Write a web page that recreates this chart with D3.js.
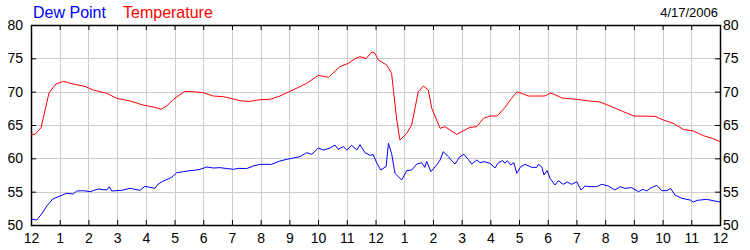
<!DOCTYPE html>
<html>
<head>
<meta charset="utf-8">
<script src="https://cdn.jsdelivr.net/npm/d3@7"></script>
<style>
body { margin:0; background:#fff; }
svg { font-family: "Liberation Sans", Arial, sans-serif; }
</style>
</head>
<body>
<div id="chart"></div>
<script>
// hour labels along the bottom
var hourLabels = ["12","1","2","3","4","5","6","7","8","9","10","11",
                  "12","1","2","3","4","5","6","7","8","9","10","11","12"];
var yTicks = [50,55,60,65,70,75,80];

// temperature, hours since midnight
var tempHours = [0,0.14,0.35,0.63,0.87,1.13,1.47,1.88,2.17,2.64,2.99,3.45,3.90,4.32,4.53,4.73,4.96,5.36,5.77,6.00,
  6.35,6.70,7.05,7.34,7.63,7.98,8.33,8.67,9.02,9.37,9.60,10.01,10.36,10.76,11.05,11.29,11.46,11.67,11.87,11.98,
  12.10,12.39,12.56,12.74,12.85,13.09,13.26,13.49,13.67,13.84,13.96,14.25,14.42,14.83,15.29,15.53,15.76,15.99,16.24,16.51,
  16.74,16.92,17.09,17.32,17.90,18.08,18.25,18.49,19.01,19.47,19.82,20.17,20.63,21.00,21.74,22.03,22.37,22.72,23.07,23.42,
  23.77,24.00];
var tempValues = [63.6,63.6,64.6,69.85,71.15,71.55,71.15,70.8,70.25,69.75,69.0,68.6,68.0,67.65,67.35,67.85,68.85,70.05,69.95,69.85,
  69.35,69.25,68.9,68.6,68.55,68.8,68.85,69.35,70.05,70.75,71.25,72.45,72.15,73.75,74.25,74.95,75.25,74.95,75.95,75.75,
  74.75,74.0,72.75,65.75,62.75,63.75,65.0,70.0,70.85,70.25,67.5,64.5,64.75,63.6,64.65,64.75,66.0,66.35,66.35,67.65,
  69.0,69.95,69.75,69.35,69.35,69.8,69.55,69.05,68.85,68.6,68.45,67.85,67.0,66.35,66.3,65.75,65.25,64.35,64.1,63.4,
  62.95,62.5];

// dew point
var dewHours = [0,0.20,0.37,0.55,0.76,1.01,1.24,1.47,1.59,1.82,2.06,2.34,2.64,2.73,2.81,3.16,3.45,3.80,3.97,4.32,
  4.43,4.61,4.90,5.08,5.31,5.54,5.77,5.89,6.12,6.35,6.58,7.05,7.22,7.51,7.74,7.98,8.38,8.67,8.91,9.14,
  9.37,9.60,9.78,10.01,10.18,10.42,10.59,10.70,10.88,11.00,11.17,11.35,11.46,11.63,11.81,11.92,12.04,12.18,12.37,12.45,
  12.56,12.68,12.91,13.09,13.26,13.44,13.61,13.72,13.78,13.93,14.13,14.25,14.36,14.54,14.65,14.77,14.94,15.08,15.23,15.35,
  15.53,15.64,15.78,15.99,16.16,16.28,16.43,16.51,16.59,16.71,16.82,16.92,17.06,17.21,17.44,17.62,17.67,17.79,17.87,17.98,
  18.08,18.25,18.37,18.54,18.68,18.83,19.01,19.16,19.30,19.47,19.71,19.88,20.11,20.34,20.52,20.69,20.92,21.16,21.31,21.45,
  21.56,21.80,21.97,22.15,22.28,22.43,22.67,22.96,23.07,23.21,23.53,24.00];
var dewValues = [50.9,50.75,51.65,52.85,53.9,54.35,54.75,54.65,55.1,55.15,55.0,55.4,55.25,55.75,55.1,55.2,55.5,55.2,55.8,55.5,
  56.15,56.6,57.15,57.85,58.0,58.15,58.25,58.35,58.7,58.55,58.6,58.35,58.5,58.45,58.85,59.1,59.1,59.6,59.85,60.05,
  60.25,60.85,60.6,61.55,61.25,61.55,62.0,61.35,61.75,61.25,61.95,61.25,62.05,60.85,60.45,60.55,59.35,58.25,58.75,62.25,
  60.75,57.75,56.75,58.15,58.25,59.15,59.35,58.65,59.55,58.0,59.0,59.75,61.0,60.25,59.65,59.15,60.25,60.6,59.85,59.15,
  59.75,59.35,59.5,59.25,58.55,59.35,59.65,59.25,59.65,59.0,59.35,57.75,58.75,59.1,58.65,58.65,59.1,58.75,57.5,58.15,
  57.0,56.0,56.65,56.1,56.45,56.1,56.5,55.25,55.85,55.75,55.75,56.1,55.85,55.25,55.75,55.5,55.6,55.0,55.35,55.1,
  55.5,55.95,55.15,55.15,55.5,54.5,54.0,53.75,53.45,53.7,53.85,53.45];

var w = 750, h = 250;
var mLeft = 31, mRight = 720, mTop = 25, mBottom = 225;

var x = d3.scaleLinear().domain([0,24]).range([mLeft,mRight]);
var y = d3.scaleLinear().domain([50,80]).range([mBottom,mTop]);

var svg = d3.select("#chart").append("svg")
  .attr("width", w).attr("height", h);

// grid
svg.append("g").selectAll("line")
  .data(d3.range(1,24))
  .enter().append("line")
  .attr("x1", d => Math.round(x(d)) + 0.5).attr("x2", d => Math.round(x(d)) + 0.5)
  .attr("y1", mTop).attr("y2", mBottom)
  .attr("stroke", "#cccccc");
svg.append("g").selectAll("line")
  .data([55,60,65,70,75])
  .enter().append("line")
  .attr("y1", d => Math.round(y(d)) + 0.5).attr("y2", d => Math.round(y(d)) + 0.5)
  .attr("x1", mLeft).attr("x2", mRight)
  .attr("stroke", "#cccccc");

// axes
var bottomAxis = d3.axisBottom(x).tickValues(d3.range(0,25))
  .tickFormat((d,i) => hourLabels[i]).tickSizeInner(-5).tickSizeOuter(0).tickPadding(8);
var topAxis = d3.axisTop(x).tickValues(d3.range(0,25))
  .tickFormat("").tickSizeInner(-5).tickSizeOuter(0);
var leftAxis = d3.axisLeft(y).tickValues(yTicks)
  .tickFormat(d3.format("d")).tickSizeInner(-5).tickSizeOuter(0).tickPadding(8);
var rightAxis = d3.axisRight(y).tickValues(yTicks)
  .tickFormat(d3.format("d")).tickSizeInner(-5).tickSizeOuter(0).tickPadding(3);

function styleAxis(g) {
  g.select(".domain").remove();
  g.selectAll("line").attr("stroke", "#000");
  g.selectAll("text").attr("fill", "#000").style("font-size", "14px")
    .style("font-family", '"Liberation Sans", Arial, sans-serif');
}
svg.append("g").attr("transform", "translate(0," + mBottom + ")").call(bottomAxis).call(styleAxis);
svg.append("g").attr("transform", "translate(0," + mTop + ")").call(topAxis).call(styleAxis);
svg.append("g").attr("transform", "translate(" + mLeft + ",0)").call(leftAxis).call(styleAxis);
svg.append("g").attr("transform", "translate(" + mRight + ",0)").call(rightAxis).call(styleAxis);

// frame
svg.append("rect")
  .attr("x", mLeft + 0.5).attr("y", mTop + 0.5)
  .attr("width", mRight - mLeft).attr("height", mBottom - mTop)
  .attr("fill", "none").attr("stroke", "#000").attr("stroke-width", 1.5);

// series
var line = d3.line().x(d => x(d[0])).y(d => y(d[1]));
svg.append("path")
  .datum(d3.zip(dewHours, dewValues))
  .attr("d", line).attr("fill", "none").attr("stroke", "#0000ff").attr("stroke-width", 1);
svg.append("path")
  .datum(d3.zip(tempHours, tempValues))
  .attr("d", line).attr("fill", "none").attr("stroke", "#ff0000").attr("stroke-width", 1);

// legend and date
svg.append("text").attr("x", 33).attr("y", 18).attr("fill", "#0000ff")
  .style("font-size", "16px").text("Dew Point");
svg.append("text").attr("x", 123).attr("y", 18).attr("fill", "#ff0000")
  .style("font-size", "16px").text("Temperature");
svg.append("text").attr("x", 718).attr("y", 17).attr("text-anchor", "end").attr("fill", "#000")
  .style("font-size", "13px").text("4/17/2006");
</script>
</body>
</html>
